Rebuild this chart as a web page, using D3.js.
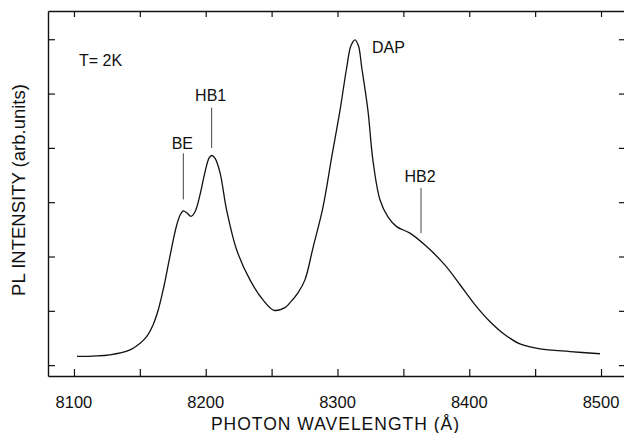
<!DOCTYPE html>
<meta charset="utf-8">
<head>
    <title>PL spectrum</title>
    <script src="https://d3js.org/d3.v7.min.js"></script>
</head>

<style>
    body { margin: 0; background: white; }
    text { font-family: "Liberation Sans", Arial, Helvetica, sans-serif; fill: #111; }
    .frame line, .frame path { stroke: #111; }
</style>

<svg></svg>

<script>
    // spectrum (wavelength in Angstrom, intensity in tick units)
    var wavelength = [8102.3, 8127.3, 8142.5, 8150.0, 8155.0, 8160.0, 8164.0, 8168.0, 8172.0, 8175.5,
        8178.0, 8180.5, 8183.0, 8185.8, 8188.8, 8191.8, 8195.6, 8199.4, 8202.5, 8204.5,
        8207.0, 8210.8, 8215.9, 8223.5, 8233.6, 8243.5, 8251.8, 8260.1, 8264.0, 8270.0,
        8275.3, 8281.4, 8289.0, 8295.6, 8301.9, 8307.0, 8310.2, 8313.3, 8315.9, 8318.4,
        8323.1, 8326.9, 8332.3, 8338.3, 8344.9, 8355.0, 8368.7, 8381.6, 8393.0, 8404.4,
        8415.8, 8427.1, 8438.5, 8453.7, 8476.5, 8499.2];
    var intensity = [0.16, 0.19, 0.28, 0.40, 0.52, 0.74, 1.02, 1.42, 1.90, 2.32,
        2.58, 2.76, 2.84, 2.80, 2.74, 2.82, 3.13, 3.55, 3.81, 3.86,
        3.81, 3.55, 2.85, 2.12, 1.57, 1.20, 1.01, 1.06, 1.15, 1.33,
        1.57, 2.16, 2.91, 3.83, 4.69, 5.48, 5.88, 5.99, 5.88, 5.48,
        4.69, 3.77, 3.04, 2.73, 2.55, 2.43, 2.16, 1.84, 1.48, 1.11,
        0.80, 0.56, 0.39, 0.30, 0.25, 0.21];

    var xTicks = [8100, 8150, 8200, 8250, 8300, 8350, 8400, 8450, 8500];
    var xTickLabels = [8100, 8200, 8300, 8400, 8500];
    var yTicks = [0, 1, 2, 3, 4, 5, 6];

    // peak markers: name, line position, line extent, label anchor
    var markName = ["BE", "HB1", "HB2"];
    var markAt = [8183.0, 8204.5, 8363.4];
    var markLo = [3.05, 4.00, 2.43];
    var markHi = [3.90, 4.74, 3.26];
    var markTextY = [3.98, 4.87, 3.37];

    var vWidth = 624;
    var vHeight = 433;
    var mLeft = 48, mRight = 625, mTop = 11, mBottom = 376;

    var svg = d3.select('svg')
        .attr('width', vWidth)
        .attr('height', vHeight);

    var x = d3.scaleLinear().domain([8080.3, 8518.2]).range([mLeft, mRight]);
    var y = d3.scaleLinear().domain([-0.2, 6.52]).range([mBottom, mTop]);

    var frame = svg.append('g').attr('class', 'frame');

    frame.append('g')
        .attr('transform', 'translate(0,' + mBottom + ')')
        .call(d3.axisBottom(x).tickValues(xTicks).tickSizeInner(-7).tickSizeOuter(0).tickFormat(''))
        .call(function (g) { g.select('.domain').attr('stroke-width', 1.4); });

    frame.append('g')
        .attr('transform', 'translate(0,' + mTop + ')')
        .call(d3.axisTop(x).tickValues(xTicks).tickSizeInner(-6).tickSizeOuter(0).tickFormat(''))
        .call(function (g) { g.select('.domain').attr('stroke-width', 1.4); });

    frame.append('g')
        .attr('transform', 'translate(' + mLeft + ',0)')
        .call(d3.axisLeft(y).tickValues(yTicks).tickSizeInner(-7).tickSizeOuter(0).tickFormat(''))
        .call(function (g) { g.select('.domain').attr('stroke-width', 1.4); });

    frame.append('g')
        .attr('transform', 'translate(' + mRight + ',0)')
        .call(d3.axisRight(y).tickValues(yTicks).tickSizeInner(-6).tickSizeOuter(0).tickFormat(''));

    frame.selectAll('.tick line').attr('stroke-width', 1.2);

    // tick labels
    svg.append('g').selectAll('text').data(xTickLabels).enter()
        .append('text')
        .attr('x', function (d) { return x(d); })
        .attr('y', 408)
        .attr('text-anchor', 'middle')
        .style('font-size', '16.5px')
        .text(function (d) { return d; });

    svg.append('text')
        .attr('x', x(8300) - 2)
        .attr('y', 429.5)
        .attr('text-anchor', 'middle')
        .style('font-size', '17.5px')
        .style('letter-spacing', '1px')
        .text('PHOTON WAVELENGTH  (\u00c5)');

    svg.append('text')
        .attr('transform', 'translate(25,' + 190 + ') rotate(-90)')
        .attr('text-anchor', 'middle')
        .style('font-size', '18.5px')
        .text('PL INTENSITY  (arb.units)');

    // spectrum
    var pts = wavelength.map(function (w, i) { return [w, intensity[i]]; });
    var line = d3.line()
        .x(function (d) { return x(d[0]); })
        .y(function (d) { return y(d[1]); })
        .curve(d3.curveCatmullRom.alpha(0.5));

    svg.append('path')
        .datum(pts)
        .attr('fill', 'none')
        .attr('stroke', '#111')
        .attr('stroke-width', 1.3)
        .attr('d', line);

    // markers
    var marks = svg.append('g');
    markName.forEach(function (name, i) {
        marks.append('line')
            .attr('x1', x(markAt[i])).attr('x2', x(markAt[i]))
            .attr('y1', y(markLo[i])).attr('y2', y(markHi[i]))
            .attr('stroke', '#444')
            .attr('stroke-width', 1);
        marks.append('text')
            .attr('x', x(markAt[i]) - 1)
            .attr('y', y(markTextY[i]))
            .attr('text-anchor', 'middle')
            .style('font-size', '16px')
            .text(name);
    });

    svg.append('text')
        .attr('x', x(8326.2))
        .attr('y', y(5.75))
        .style('font-size', '16px')
        .text('DAP');

    svg.append('text')
        .attr('x', x(8103.8))
        .attr('y', y(5.5))
        .style('font-size', '16px')
        .text('T= 2K');
</script>
